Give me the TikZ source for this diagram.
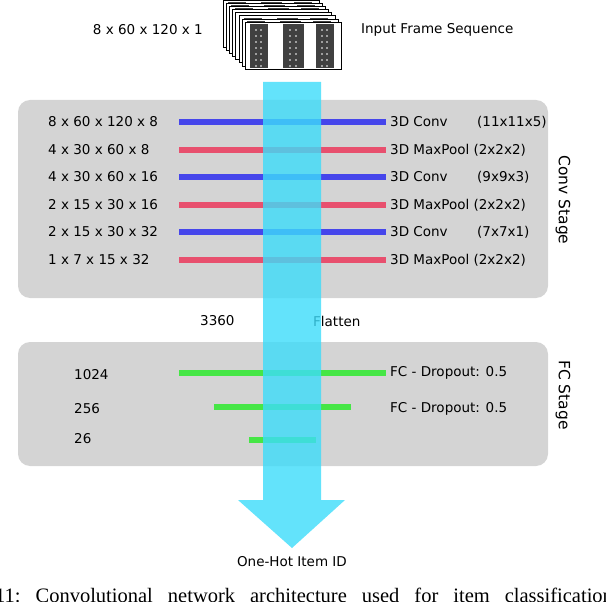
\documentclass[tikz,border=0pt]{standalone}
\usepackage{fontspec}
\setmainfont{DejaVu Sans}
\newfontfamily\capfont{Liberation Serif}
\definecolor{convc}{RGB}{70,70,235}
\definecolor{poolc}{RGB}{232,80,110}
\definecolor{fcc}{RGB}{70,230,70}
\definecolor{arrc}{RGB}{60,220,250}
\begin{document}
\begin{tikzpicture}[x=1pt,y=-1pt,
  stage/.style={fill=black!17,rounded corners=12pt,draw=none},
  lbl/.style={font=\fontsize{13.5}{15}\selectfont,inner sep=0pt,anchor=west},
  conv/.style={line width=6pt,draw=convc},
  pool/.style={line width=6pt,draw=poolc},
  fc/.style={line width=6pt,draw=fcc},
  frame/.style={fill=white,draw=black,line width=0.6pt}]
\useasboundingbox (0,0) rectangle (606,602);
\clip (0,0) rectangle (606,602);
% frames
\foreach \i in {7,...,0}{
  \begin{scope}[shift={(-3.1*\i,-3.1*\i)}]
    \draw[frame] (245,22) rectangle (341,69);
    \fill[black!75] (250,24) rectangle (268,68);
    \fill[black!75] (283,24) rectangle (304,68);
    \fill[black!75] (316,24) rectangle (334,68);
    \foreach \yy in {30,36,...,66}{
      \fill[white] (256,\yy) circle (0.8); \fill[white] (261,\yy) circle (0.8);
      \fill[white] (290,\yy) circle (0.8); \fill[white] (296,\yy) circle (0.8);
      \fill[white] (322,\yy) circle (0.8); \fill[white] (327,\yy) circle (0.8);}
  \end{scope}}
\node[lbl,anchor=east] (inl) at (203,30) {8 x 60 x 120 x 1};
\node[lbl] (inr) at (361,30) {Input Frame Sequence};
% stages
\fill[stage] (18,100) rectangle (548,298);
\fill[stage] (18,342) rectangle (548,466);
\node[rotate=-90,font=\fontsize{15.5}{17}\selectfont] (cs) at (563,200) {Conv Stage};
\node[rotate=-90,font=\fontsize{15.5}{17}\selectfont] (fs) at (563,395) {FC Stage};
% conv layers
\draw[conv] (179,122) -- (386,122);
\draw[pool] (179,150) -- (386,150);
\draw[conv] (179,177) -- (386,177);
\draw[pool] (179,205) -- (386,205);
\draw[conv] (179,232) -- (386,232);
\draw[pool] (179,260) -- (386,260);
\node[lbl] (l1) at (48,122) {8 x 60 x 120 x 8};
\node[lbl] (l2) at (48,150) {4 x 30 x 60 x 8};
\node[lbl] (l3) at (48,177) {4 x 30 x 60 x 16};
\node[lbl] (l4) at (48,205) {2 x 15 x 30 x 16};
\node[lbl] (l5) at (48,232) {2 x 15 x 30 x 32};
\node[lbl] (l6) at (48,260) {1 x 7 x 15 x 32};
\node[lbl] (r1) at (390,122) {3D Conv};
\node[lbl] (r2) at (390,150) {3D MaxPool (2x2x2)};
\node[lbl] (r3) at (390,177) {3D Conv};
\node[lbl] (r4) at (390,205) {3D MaxPool (2x2x2)};
\node[lbl] (r5) at (390,232) {3D Conv};
\node[lbl] (r6) at (390,260) {3D MaxPool (2x2x2)};
\node[lbl] (p1) at (477,122) {(11x11x5)};
\node[lbl] (p3) at (477,177) {(9x9x3)};
\node[lbl] (p5) at (477,232) {(7x7x1)};
\node[lbl] (fl1) at (200,321) {3360};
\node[lbl] (fl2) at (313,321) {Flatten};
% fc
\draw[fc] (179,373) -- (386,373);
\draw[fc] (214,407) -- (351,407);
\draw[fc] (249,440) -- (316,440);
\node[lbl] (f1) at (74,375) {1024};
\node[lbl] (f2) at (74,409) {256};
\node[lbl] (f3) at (74,439) {26};
\node[lbl] (fr1) at (390,373) {FC - Dropout: 0.5};
\node[lbl] (fr2) at (390,409) {FC - Dropout: 0.5};
% arrow
\fill[arrc,opacity=0.8]
  (263,82) -- (321,82) -- (321,500) -- (345,500) -- (292,548) -- (238,500) -- (263,500) -- cycle;
\node[lbl,anchor=center] (out) at (292,562) {One-Hot Item ID};
\node[font=\capfont\fontsize{20.5}{22}\selectfont,inner sep=0pt,anchor=west] (cap) at (-5,595)
  {11:\hspace{15pt}Convolutional\hspace{15pt}network\hspace{15pt}architecture\hspace{15pt}used\hspace{15pt}for\hspace{15pt}item\hspace{15pt}classification};
\end{tikzpicture}
\end{document}
